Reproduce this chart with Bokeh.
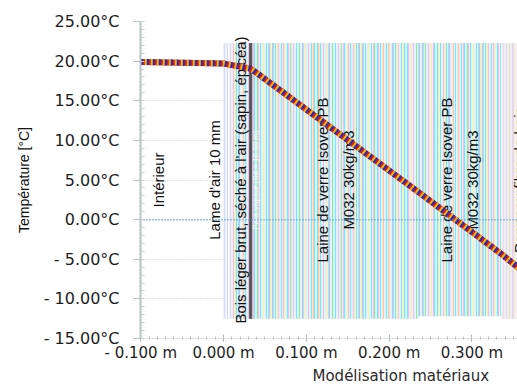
import numpy as np
from bokeh.plotting import figure
from bokeh.models import (Range1d, CustomJSTickFormatter, SingleIntervalTicker,
                          Span, Title, ColumnDataSource)
from bokeh.core.properties import value
from bokeh.embed import file_html
from bokeh.resources import INLINE

# ---- data -------------------------------------------------------------
# temperature profile through the wall (position in m, temperature in °C)
pos_m = [-0.100, 0.000, 0.010, 0.031, 0.035, 0.235, 0.335, 0.360]
temp_c = [19.9, 19.7, 19.5, 19.1, 18.9, 3.5, -4.3, -6.4]

# wall layers (start / end in m)
layer_start = [0.000, 0.010, 0.031, 0.035, 0.235, 0.335]
layer_end = [0.010, 0.031, 0.035, 0.235, 0.335, 0.420]

# layer labels
label_text = ["Intérieur",
              "Lame d'air 10 mm",
              "Bois léger brut, séché à l'air (sapin, épicéa)",
              "Laine de verre Isover PB\nM032 30kg/m3",
              "Laine de verre Isover PB\nM032 30kg/m3",
              "Panneau fibre de bois"]
label_x = [-0.078, -0.0105, 0.0205, 0.135, 0.285, 0.358]
membrane_text = ["Pare-vapeur (Sd = 18.00 m)"]
membrane_x = [0.0386]

x_title = "Modélisation matériaux"
y_title = "Température [°C]"
x_ticks_interval = 0.1
y_ticks_interval = 5

# ---- styles -------------------------------------------------------------
TICK_FONT = "DejaVu Sans"
LABEL_FONT = "Liberation Sans"
layer_fill = ["#f2f0f8", "#e4f2ff", "#4f5a5a", "#e4f2ff", "#e4f2ff", "#efeef3"]
layer_hatch1 = ["#d6dcf8", "#6cecff", "#4f5a5a", "#6cecff", "#6cecff", "#dcdce6"]
layer_hatch2 = ["#ece6f6", "#ffb8e6", "#4f5a5a", "#ffb8e6", "#ffb8e6", "#f6d2ec"]
layer_hatch3 = ["#ffffff", "#fff08c", "#4f5a5a", "#fff08c", "#fff08c", "#f8f4d0"]
layer_top = [22.3] * 6
layer_bottom = [-12.5, -12.5, -12.5, -12.5, -12.2, -12.5]

p = figure(width=517, height=385,
           x_range=Range1d(-0.1003, 0.355), y_range=Range1d(-15, 25),
           output_backend="svg", toolbar_location=None,
           min_border_left=140, min_border_right=0,
           min_border_top=21, min_border_bottom=45)
p.outline_line_color = None
p.background_fill_color = "white"
p.border_fill_color = "white"

# grid
p.xgrid.visible = False
p.ygrid.grid_line_color = "#c4c4c4"
p.ygrid.grid_line_dash = "1 2"
p.ygrid.grid_line_width = 1

# layers
src = ColumnDataSource(dict(left=layer_start, right=layer_end, top=layer_top,
                            bottom=layer_bottom, fill=layer_fill,
                            h1=layer_hatch1, h2=layer_hatch2, h3=layer_hatch3))
p.quad(left="left", right="right", top="top", bottom="bottom", source=src,
       fill_color="fill", line_color=None,
       hatch_pattern="|", hatch_color="h1", hatch_scale=3, hatch_weight=1)
p.quad(left="left", right="right", top="top", bottom="bottom", source=src,
       fill_alpha=0, line_color=None,
       hatch_pattern="|", hatch_color="h2", hatch_scale=5, hatch_weight=1)
p.quad(left="left", right="right", top="top", bottom="bottom", source=src,
       fill_alpha=0, line_color=None,
       hatch_pattern="|", hatch_color="h3", hatch_scale=7, hatch_weight=1)

# zero line
p.add_layout(Span(location=0, dimension="width", line_color="#3fa0e0",
                  line_dash="1 2", line_width=1.5, level="glyph"))

# labels
p.text(x=label_x, y=[5] * len(label_x), text=label_text, angle=np.pi / 2,
       text_align="center", text_baseline="middle",
       text_font=value(LABEL_FONT), text_font_size="15px",
       text_color="#111111", text_line_height=1.5)
p.text(x=membrane_x, y=[5], text=membrane_text, angle=np.pi / 2,
       text_align="center", text_baseline="middle",
       text_font=value(LABEL_FONT), text_font_size="8px", text_color="white")

# temperature curve (striped rope look)
p.line(pos_m, temp_c, line_color="#d01c1c", line_width=6)
p.line(pos_m, temp_c, line_color="#1a2ed0", line_width=6, line_dash="2 4")
p.line(pos_m, temp_c, line_color="#f0b800", line_width=6, line_dash="2 4",
       line_dash_offset=2)

# axes
p.xaxis.ticker = SingleIntervalTicker(interval=x_ticks_interval, num_minor_ticks=10)
p.yaxis.ticker = SingleIntervalTicker(interval=y_ticks_interval, num_minor_ticks=5)
p.xaxis.formatter = CustomJSTickFormatter(code="""
    const v = Math.round(tick * 1000) / 1000;
    return (v < 0 ? "- " : "") + Math.abs(v).toFixed(3) + " m";
""")
p.yaxis.formatter = CustomJSTickFormatter(code="""
    const v = Math.round(tick * 100) / 100;
    return (v < 0 ? "- " : "") + Math.abs(v).toFixed(2) + "°C";
""")

for ax in (p.xaxis[0], p.yaxis[0]):
    ax.major_label_text_font = TICK_FONT
    ax.major_label_text_color = "#1e1e1e"
p.yaxis.major_label_text_font_size = "16px"
p.xaxis.major_label_text_font_size = "15px"

p.yaxis.axis_label = y_title
p.yaxis.axis_label_text_font = LABEL_FONT
p.yaxis.axis_label_text_font_size = "14px"
p.yaxis.axis_label_text_font_style = "normal"
p.yaxis.axis_label_text_color = "#111111"
p.yaxis.axis_label_standoff = 9
p.yaxis.axis_line_color = "#b8c4c4"
p.yaxis.axis_line_width = 2
p.yaxis.major_tick_line_color = "#b8c4c4"
p.yaxis.major_tick_in = 3
p.yaxis.major_tick_out = 7
p.yaxis.minor_tick_line_color = "#c6cece"
p.yaxis.minor_tick_in = 4
p.yaxis.minor_tick_out = 0
p.yaxis.major_label_standoff = 14

p.xaxis.axis_line_color = "#a8b0b0"
p.xaxis.axis_line_dash = "1 2"
p.xaxis.major_tick_line_color = "#a8b8b8"
p.xaxis.major_tick_in = 4
p.xaxis.major_tick_out = 3
p.xaxis.minor_tick_line_color = "#b8c0c0"
p.xaxis.minor_tick_in = 2
p.xaxis.minor_tick_out = 1
p.xaxis.major_label_standoff = 2

p.add_layout(Title(text=x_title, align="left", offset=172,
                   vertical_align="bottom",
                   text_font=TICK_FONT, text_font_size="15px",
                   text_font_style="normal", text_color="#2a2a2a",
                   standoff=1), "below")

open("out.html", "w").write(file_html(p, INLINE))
